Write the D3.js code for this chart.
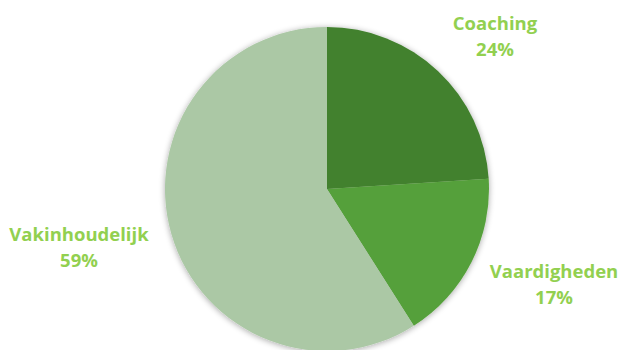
<!DOCTYPE html>
<html>
<head>
<meta charset="utf-8">
<script src="https://cdn.jsdelivr.net/npm/d3@7"></script>
<style>
  body { margin: 0; background: #fff; }
  text { font-family: "Open Sans", sans-serif; font-weight: bold; }
</style>
</head>
<body>
<script>
const categories = ['Coaching', 'Vaardigheden', 'Vakinhoudelijk'];
const values = [24, 17, 59];
const colors = ['#43812f', '#55a03a', '#abc8a5'];
const labelPos = [[495, 30], [554, 278], [79, 241]]; // label anchors, first line baseline

const width = 623, height = 350;
const cx = 327, cy = 189, r = 162;

const svg = d3.select('body').append('svg').attr('width', width).attr('height', height);

const defs = svg.append('defs');
const f = defs.append('filter').attr('id', 'shadow').attr('x', '-10%').attr('y', '-10%').attr('width', '120%').attr('height', '120%');
f.append('feGaussianBlur').attr('in', 'SourceAlpha').attr('stdDeviation', 3);
f.append('feOffset').attr('dx', 0).attr('dy', 1).attr('result', 'b');
f.append('feComponentTransfer').append('feFuncA').attr('type', 'linear').attr('slope', 0.35);
const m = f.append('feMerge');
m.append('feMergeNode');
m.append('feMergeNode').attr('in', 'SourceGraphic');

const pie = d3.pie().sort(null).value(d => d)(values);
const arc = d3.arc().innerRadius(0).outerRadius(r);

const g = svg.append('g').attr('transform', `translate(${cx},${cy})`).attr('filter', 'url(#shadow)');
g.selectAll('path').data(pie).enter().append('path')
  .attr('d', arc)
  .attr('fill', (d, i) => colors[i]);

const labels = svg.selectAll('text.lbl').data(categories).enter().append('text')
  .attr('class', 'lbl')
  .attr('text-anchor', 'middle')
  .attr('fill', '#92d050')
  .attr('font-size', 18.5);
labels.append('tspan').attr('x', (d, i) => labelPos[i][0]).attr('y', (d, i) => labelPos[i][1]).text(d => d);
labels.append('tspan').attr('x', (d, i) => labelPos[i][0]).attr('dy', 26).text((d, i) => values[i] + '%');
</script>
</body>
</html>
